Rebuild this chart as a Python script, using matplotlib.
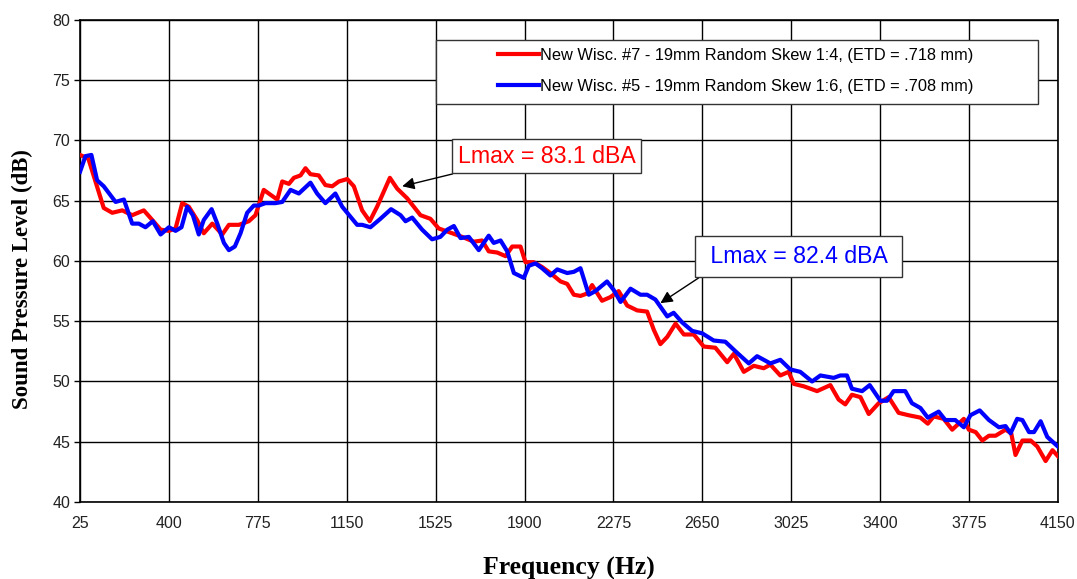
import matplotlib
matplotlib.use("Agg")
import matplotlib.pyplot as plt
from matplotlib.patches import Rectangle

# -----------------------------
# DATA
# -----------------------------

red_freq = [25, 60, 125, 161, 203, 245, 294, 330, 365, 400, 428, 456, 484, 519, 547,
            583, 625, 653, 695, 737, 765, 800, 828, 857, 878, 906, 927, 955, 976, 997,
            1032, 1060, 1089, 1117, 1152, 1180, 1215, 1247, 1278, 1332, 1363, 1405,
            1461, 1503, 1538, 1595, 1637, 1686, 1721, 1749, 1785, 1820, 1848, 1883,
            1904, 1939, 1974, 2009, 2052, 2080, 2108, 2136, 2164, 2185, 2227, 2262,
            2297, 2333, 2375, 2417, 2445, 2473, 2502, 2537, 2572, 2614, 2656, 2705,
            2755, 2783, 2825, 2867, 2909, 2937, 2979, 3014, 3036, 3078, 3134, 3190,
            3225, 3253, 3281, 3317, 3352, 3394, 3436, 3478, 3520, 3570, 3601, 3626,
            3668, 3704, 3753, 3774, 3803, 3831, 3859, 3887, 3929, 3953, 3971, 4000,
            4035, 4063, 4098, 4127, 4150]
red_spl = [68.8, 68.5, 64.4, 64.0, 64.2, 63.8, 64.2, 63.4, 62.6, 62.5, 62.7, 64.8, 64.5, 63.4, 62.3,
           63.1, 62.2, 63.0, 63.0, 63.3, 63.8, 65.9, 65.5, 65.1, 66.6, 66.4, 66.9, 67.1, 67.7, 67.2,
           67.1, 66.3, 66.2, 66.6, 66.8, 66.2, 64.2, 63.3, 64.5, 66.9, 66.0, 65.2,
           63.8, 63.5, 62.7, 62.3, 62.0, 61.6, 61.7, 60.8, 60.7, 60.4, 61.2, 61.2,
           59.9, 59.9, 59.5, 59.0, 58.3, 58.1, 57.2, 57.1, 57.3, 58.0, 56.7, 57.0,
           57.5, 56.3, 55.9, 55.8, 54.3, 53.1, 53.7, 54.8, 53.9, 53.9, 52.9, 52.8,
           51.6, 52.3, 50.8, 51.3, 51.1, 51.4, 50.5, 50.8, 49.8, 49.6, 49.2, 49.7,
           48.5, 48.1, 48.9, 48.7, 47.3, 48.2, 48.7, 47.4, 47.2, 47.0, 46.5, 47.1,
           46.9, 46.0, 46.9, 46.0, 45.8, 45.1, 45.5, 45.5, 46.0, 45.7, 43.9, 45.1,
           45.1, 44.6, 43.4, 44.3, 43.8]

blue_freq = [25, 48, 73, 97, 125, 175, 210, 245, 273, 301, 332, 365, 400, 428, 453,
             477, 501, 526, 547, 580, 604, 632, 653, 678, 702, 730, 758, 779, 807, 849,
             878, 913, 948, 997, 1025, 1060, 1102, 1131, 1194, 1215, 1250, 1292, 1337,
             1377, 1398, 1426, 1468, 1510, 1545, 1574, 1602, 1630, 1665, 1707, 1749,
             1770, 1799, 1827, 1855, 1897, 1918, 1946, 1974, 2009, 2038, 2080, 2108,
             2136, 2171, 2199, 2248, 2276, 2305, 2347, 2389, 2417, 2452, 2502, 2529,
             2565, 2607, 2649, 2698, 2747, 2790, 2846, 2881, 2937, 2979, 3021, 3063,
             3113, 3148, 3204, 3232, 3260, 3281, 3324, 3356, 3401, 3429, 3457, 3506,
             3534, 3570, 3601, 3647, 3675, 3717, 3753, 3781, 3820, 3859, 3901, 3929,
             3950, 3978, 4000, 4028, 4049, 4077, 4105, 4150]
blue_spl = [67.4, 68.7, 68.8, 66.7, 66.2, 64.9, 65.1, 63.1, 63.1, 62.8, 63.3, 62.2, 62.8, 62.5, 62.8,
            64.5, 63.8, 62.2, 63.4, 64.3, 63.1, 61.5, 60.9, 61.2, 62.3, 64.0, 64.6, 64.6, 64.8, 64.8,
            64.9, 65.9, 65.6, 66.5, 65.6, 64.8, 65.6, 64.5, 63.0, 63.0, 62.8, 63.5, 64.3,
            63.8, 63.3, 63.6, 62.6, 61.8, 62.0, 62.6, 62.9, 61.9, 62.0, 60.9, 62.1,
            61.5, 61.7, 60.8, 59.0, 58.6, 59.6, 59.8, 59.4, 58.8, 59.3, 59.0, 59.1,
            59.4, 57.2, 57.5, 58.3, 57.6, 56.6, 57.7, 57.2, 57.2, 56.8, 55.4, 55.7,
            54.9, 54.2, 54.0, 53.4, 53.3, 52.5, 51.5, 52.1, 51.5, 51.8, 51.0, 50.8,
            50.0, 50.5, 50.3, 50.5, 50.5, 49.4, 49.2, 49.7, 48.4, 48.4, 49.2, 49.2,
            48.2, 47.8, 47.0, 47.5, 46.8, 46.8, 46.2, 47.2, 47.6, 46.8, 46.2, 46.3,
            45.7, 46.9, 46.8, 45.8, 45.8, 46.7, 45.4, 44.6]

red_label = "New Wisc. #7 - 19mm Random Skew 1:4, (ETD = .718 mm)"
blue_label = "New Wisc. #5 - 19mm Random Skew 1:6, (ETD = .708 mm)"

x_ticks = [25, 400, 775, 1150, 1525, 1900, 2275, 2650, 3025, 3400, 3775, 4150]
y_ticks = [40, 45, 50, 55, 60, 65, 70, 75, 80]

# -----------------------------
# PLOT
# -----------------------------

plt.rcParams['font.family'] = ['Liberation Sans', 'DejaVu Sans']

fig = plt.figure(figsize=(10.77, 5.79), dpi=100)
ax = fig.add_axes([0.0743, 0.133, 0.908, 0.8325])

ax.plot(red_freq, red_spl, color='#ff0000', lw=3.0, label=red_label, zorder=3)
ax.plot(blue_freq, blue_spl, color='#0000ff', lw=3.0, label=blue_label, zorder=3)

ax.set_xlim(25, 4150)
ax.set_ylim(40, 80)
ax.set_xticks(x_ticks)
ax.set_yticks(y_ticks)
ax.grid(True, color='black', lw=1.0)
ax.set_axisbelow(True)
ax.tick_params(axis='x', length=0, pad=10, labelsize=11.5, labelcolor='#222222')
ax.tick_params(axis='y', length=4, width=1, pad=3, labelsize=11.5, labelcolor='#222222')
for s in ax.spines.values():
    s.set_color('black')
    s.set_linewidth(1.2)

ax.set_xlabel("Frequency (Hz)", family='Liberation Serif', fontweight='bold',
              fontsize=18.5, labelpad=19)
ax.set_ylabel("Sound Pressure Level (dB)", family='Liberation Serif', fontweight='bold',
              fontsize=16.5)
ax.yaxis.set_label_coords(-0.048, 0.463)

# legend box (wide frame like the original)
ax.add_patch(Rectangle((0.364, 0.826), 0.616, 0.133, transform=ax.transAxes,
                       facecolor='white', edgecolor='#333333', lw=1.0, zorder=4))
leg = ax.legend(loc='upper left', bbox_to_anchor=(0.421, 0.956), frameon=False,
                fontsize=11.8, handlelength=2.5, handletextpad=0.05, labelspacing=1.0,
                borderaxespad=0)
leg.set_zorder(5)

# Lmax annotations
ax.annotate("Lmax = 83.1 dBA", xy=(1384, 66.2), xytext=(1618, 68.7),
            fontsize=16.7, color='#ff0000', va='center', ha='left',
            bbox=dict(boxstyle='square,pad=0.25', fc='white', ec='#333333', lw=1.0),
            arrowprops=dict(arrowstyle='-|>', color='black', lw=1.0,
                            mutation_scale=18, shrinkA=0, shrinkB=0,
                            relpos=(0.116, 0.0)),
            zorder=6)
ax.annotate(" Lmax = 82.4 dBA ", xy=(2473, 56.5), xytext=(2657, 60.36),
            fontsize=16.7, color='#0000ff', va='center', ha='left',
            bbox=dict(boxstyle='square,pad=0.4', fc='white', ec='#333333', lw=1.0),
            arrowprops=dict(arrowstyle='-|>', color='black', lw=1.0,
                            mutation_scale=18, shrinkA=0, shrinkB=0,
                            relpos=(0.05, 0.0)),
            zorder=6)

fig.savefig("out.png", dpi=100)
